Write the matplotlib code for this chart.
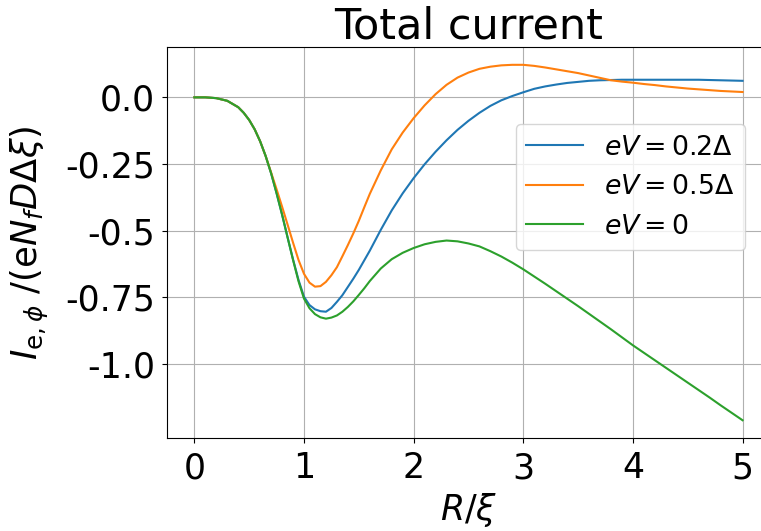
import numpy as np
import matplotlib
matplotlib.use('Agg')
import matplotlib.pyplot as plt

# radial distance R/xi
r = [0.0, 0.1, 0.2, 0.3,
     0.4, 0.45, 0.5, 0.55, 0.6, 0.65, 0.7, 0.75, 0.8, 0.85, 0.9, 0.95,
     1.0, 1.05, 1.1, 1.15, 1.2, 1.25, 1.3, 1.35, 1.4, 1.45, 1.5, 1.55,
     1.6, 1.7, 1.8, 1.9, 2.0, 2.1, 2.2, 2.3, 2.4, 2.5, 2.6, 2.7, 2.8, 2.9,
     3.0, 3.1, 3.2, 3.3, 3.4, 3.5, 3.6, 3.7, 3.8, 3.9,
     4.0, 4.1, 4.2, 4.3, 4.4, 4.5, 4.6, 4.7, 4.8, 4.9, 5.0]

# total current for eV = 0.2 Delta
I_02 = [0, 0, -0.003, -0.013,
        -0.037, -0.058, -0.085, -0.12, -0.165, -0.22, -0.285, -0.36, -0.44, -0.525, -0.608, -0.685,
        -0.748, -0.779, -0.795, -0.802, -0.804, -0.79, -0.767, -0.742, -0.711, -0.68, -0.647, -0.611,
        -0.575, -0.497, -0.424, -0.36, -0.303, -0.251, -0.204, -0.161, -0.122, -0.088, -0.058, -0.032, -0.011, 0.005,
        0.019, 0.032, 0.041, 0.048, 0.054, 0.058, 0.062, 0.064, 0.065, 0.066,
        0.066, 0.066, 0.066, 0.066, 0.066, 0.066, 0.066, 0.065, 0.064, 0.063, 0.062]

# total current for eV = 0.5 Delta
I_05 = [0, 0, -0.003, -0.013,
        -0.037, -0.058, -0.085, -0.12, -0.165, -0.22, -0.282, -0.345, -0.41, -0.477, -0.545, -0.61,
        -0.662, -0.695, -0.71, -0.708, -0.692, -0.667, -0.637, -0.596, -0.554, -0.51, -0.463, -0.412,
        -0.362, -0.274, -0.195, -0.132, -0.078, -0.03, 0.012, 0.047, 0.074, 0.093, 0.107, 0.115, 0.12, 0.122,
        0.122, 0.118, 0.112, 0.105, 0.098, 0.091, 0.082, 0.073, 0.064, 0.059,
        0.055, 0.05, 0.046, 0.041, 0.037, 0.033, 0.03, 0.027, 0.024, 0.022, 0.02]

# total current at zero bias
I_0 = [0, 0, -0.003, -0.013,
       -0.037, -0.058, -0.085, -0.12, -0.165, -0.22, -0.285, -0.36, -0.44, -0.525, -0.61, -0.69,
       -0.755, -0.791, -0.813, -0.825, -0.83, -0.826, -0.818, -0.804, -0.786, -0.765, -0.741, -0.716,
       -0.689, -0.642, -0.607, -0.583, -0.565, -0.551, -0.542, -0.537, -0.54, -0.548, -0.559, -0.577, -0.597, -0.62,
       -0.645, -0.672, -0.699, -0.727, -0.755, -0.783, -0.812, -0.841, -0.870, -0.900,
       -0.930, -0.958, -0.986, -1.014, -1.042, -1.070, -1.098, -1.126, -1.155, -1.183, -1.211]

xticks = [0, 1, 2, 3, 4, 5]
yticks = [0.0, -0.25, -0.5, -0.75, -1.0]
ytick_labels = ['0.0', '-0.25', '-0.5', '-0.75', '-1.0']

fig = plt.figure(figsize=(7.61, 5.31), dpi=100)
# axes run past the right edge of the canvas
ax = fig.add_axes([0.2194, 0.1751, 0.7924, 0.7363])

ax.plot(r, I_02, color='tab:blue', lw=1.5, label=r'$eV=0.2\Delta$')
ax.plot(r, I_05, color='tab:orange', lw=1.5, label=r'$eV=0.5\Delta$')
ax.plot(r, I_0, color='tab:green', lw=1.5, label=r'$eV=0$')

ax.set_xlim(-0.25, 5.25)
ax.set_xticks(xticks)
ax.set_yticks(yticks)
ax.set_yticklabels(ytick_labels)
ax.tick_params(labelsize=25)
ax.tick_params(axis='x', pad=6)
ax.tick_params(axis='y', pad=5)
ax.spines['right'].set_visible(False)
ax.grid(True)

ax.set_title('Total current', fontsize=31)
ax.set_xlabel(r'$R/\xi$', fontsize=25)
ax.set_ylabel(r'$I_{\mathrm{e},\phi}$ /(e$N_f D\Delta\xi$)', fontsize=25.5)
ax.yaxis.set_label_coords(-0.192, 0.5)

ax.legend(fontsize=19.3, handlelength=2.1, loc='upper right',
          bbox_to_anchor=(745 / 761, 1 - 124 / 531),
          bbox_transform=fig.transFigure, borderaxespad=0)

fig.savefig('out.png', dpi=100)
